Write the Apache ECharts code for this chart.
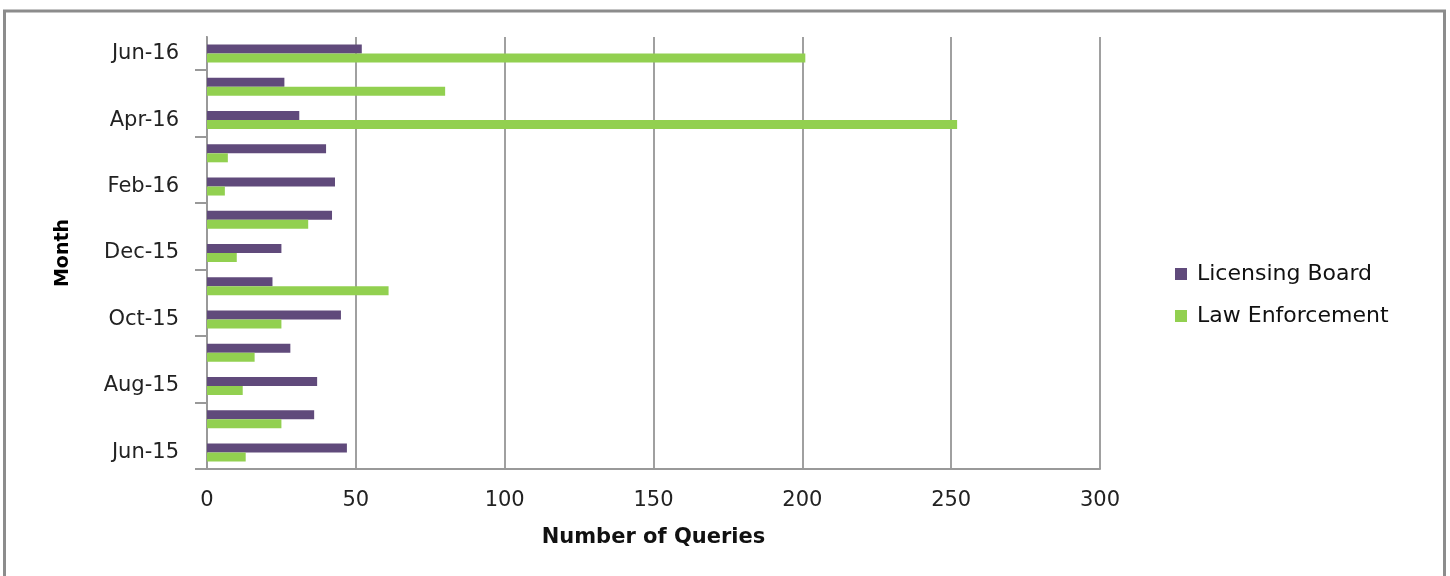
<!DOCTYPE html>
<html>
<head>
<meta charset="utf-8">
<script src="https://cdn.jsdelivr.net/npm/echarts@6/dist/echarts.min.js"></script>
<style>
html,body{margin:0;padding:0;background:#fff;}
#c{width:1450px;height:576px;}
</style>
</head>
<body>
<div id="c"></div>
<script>
const months = ['Jun-15','Jul-15','Aug-15','Sep-15','Oct-15','Nov-15','Dec-15','Jan-16','Feb-16','Mar-16','Apr-16','May-16','Jun-16'];
const licensingBoard = [47, 36, 37, 28, 45, 22, 25, 42, 43, 40, 31, 26, 52];
const lawEnforcement = [13, 25, 12, 16, 25, 61, 10, 34, 6, 7, 252, 80, 201];
const xTicks = [0, 50, 100, 150, 200, 250, 300];

const font = "'DejaVu Sans', 'Open Sans', sans-serif";
const chart = echarts.init(document.getElementById('c'), null, {renderer: 'canvas'});
chart.setOption({
  animation: false,
  backgroundColor: '#fff',
  graphic: [
    {
      type: 'rect',
      shape: {x: 4.5, y: 11, width: 1440, height: 600},
      style: {fill: 'none', stroke: '#8c8c8c', lineWidth: 3},
      silent: true
    },
    {
      type: 'rect',
      shape: {x: 192, y: 34, width: 14, height: 6},
      style: {fill: '#fff'},
      z: 100,
      silent: true
    }
  ],
  grid: {left: 207, right: 350, top: 37, bottom: 107, containLabel: false},
  legend: {
    orient: 'vertical',
    left: 1170,
    top: 258,
    itemWidth: 12,
    itemHeight: 12,
    itemGap: 20,
    icon: 'rect',
    textStyle: {fontFamily: font, fontSize: 22, color: '#111', padding: [0,0,0,5]},
    data: ['Licensing Board', 'Law Enforcement']
  },
  xAxis: {
    type: 'value',
    min: xTicks[0],
    max: xTicks[xTicks.length - 1],
    interval: 50,
    name: 'Number of Queries',
    nameLocation: 'middle',
    nameGap: 58,
    nameTextStyle: {fontFamily: font, fontSize: 21, fontWeight: 'bold', color: '#111'},
    axisLine: {show: true, lineStyle: {color: '#999', width: 2}},
    axisTick: {show: false},
    axisLabel: {fontFamily: font, fontSize: 21, color: '#222', margin: 21},
    splitLine: {show: true, lineStyle: {color: '#a0a0a0', width: 2}}
  },
  yAxis: {
    type: 'category',
    data: months,
    name: 'Month',
    nameLocation: 'middle',
    nameGap: 134,
    nameRotate: 90,
    nameTextStyle: {fontFamily: font, fontSize: 19, fontWeight: 'bold', color: '#000'},
    axisLine: {show: true, lineStyle: {color: '#999', width: 2}},
    axisTick: {show: true, interval: 1, length: 12, lineStyle: {color: '#999', width: 2}},
    axisLabel: {interval: 1, fontFamily: font, fontSize: 21, color: '#222', margin: 28}
  },
  series: [
    {
      name: 'Licensing Board',
      type: 'bar',
      data: licensingBoard,
      barWidth: 9,
      barGap: '0%',
      itemStyle: {color: '#604A7B'},
      z: 3
    },
    {
      name: 'Law Enforcement',
      type: 'bar',
      data: lawEnforcement,
      barWidth: 9,
      barGap: '0%',
      itemStyle: {color: '#92D050'},
      z: 3
    }
  ]
});
</script>
</body>
</html>
